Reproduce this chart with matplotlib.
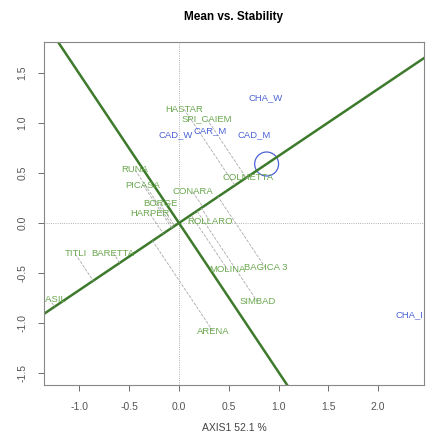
import numpy as np
import matplotlib
import matplotlib.pyplot as plt

matplotlib.use("Agg")
plt.rcParams["font.family"] = ["Liberation Sans", "DejaVu Sans"]
plt.rcParams["axes.unicode_minus"] = False

# ------------------------------------------------------------
# Data (AXIS1 / AXIS2 scores)
# ------------------------------------------------------------
gen_names = ["HASTAR", "SPI_CAIEM", "RUNA", "PICASA", "CONARA", "BORGE",
             "HARPER", "ROLLARO", "COLMETTA", "TITLI", "BARETTA", "MOLINA",
             "BAGICA 3", "SIMBAD", "ARENA", "BRASIL"]
gen_x = [0.05, 0.28, -0.44, -0.36, 0.14, -0.19, -0.29, 0.31, 0.69,
         -1.04, -0.66, 0.49, 0.87, 0.79, 0.34, -1.30]
gen_y = [1.14, 1.04, 0.53, 0.38, 0.31, 0.19, 0.09, 0.02, 0.45,
         -0.31, -0.30, -0.47, -0.45, -0.79, -1.08, -0.76]

env_names = ["CHA_W", "CAD_W", "CAR_M", "CAD_M", "CHA_I"]
env_x = [0.87, -0.03, 0.31, 0.75, 2.31]
env_y = [1.25, 0.88, 0.92, 0.88, -0.92]

# average environment coordinate (circle)
mean_env = (0.88, 0.59)

GREEN_LINE = "#3d7a2c"
GREEN_TXT = "#6aa84f"
BLUE_TXT = "#4b63d6"
GREY = "#555555"

# ------------------------------------------------------------
# Figure
# ------------------------------------------------------------
fig = plt.figure(figsize=(4.33, 4.37), dpi=100)
ax = fig.add_axes([44 / 433, 52 / 437, 380 / 433, 343 / 437])
ax.set_xlim(-1.355, 2.46)
ax.set_ylim(-1.62, 1.81)

# reference axes
ax.axhline(0, color="#999999", linestyle=":", linewidth=0.6)
ax.axvline(0, color="#999999", linestyle=":", linewidth=0.6)

# average-environment axis (ATC abscissa) and its perpendicular
slope = mean_env[1] / mean_env[0]
ax.axline((0, 0), slope=slope, color=GREEN_LINE, linewidth=1.8)
ax.axline((0, 0), slope=-1 / slope, color=GREEN_LINE, linewidth=1.8)

# projection of genotypes onto the ATC abscissa
u = np.array([1.0, slope]) / np.hypot(1.0, slope)
for gx, gy in zip(gen_x, gen_y):
    d = gx * u[0] + gy * u[1]
    ax.plot([gx, d * u[0]], [gy, d * u[1]], color="#aaaaaa",
            linestyle="--", linewidth=0.6)

# circle marking the average environment
circ = plt.Circle(mean_env, 0.12, fill=False, color=BLUE_TXT, linewidth=0.9)
ax.add_patch(circ)

# labels
for name, x, y in zip(gen_names, gen_x, gen_y):
    ax.text(x, y, name, color=GREEN_TXT, fontsize=6.8,
            ha="center", va="center", clip_on=True)
for name, x, y in zip(env_names, env_x, env_y):
    ax.text(x, y, name, color=BLUE_TXT, fontsize=6.8,
            ha="center", va="center", clip_on=True)

# axes style (R-like)
xt = [-1.0, -0.5, 0.0, 0.5, 1.0, 1.5, 2.0]
yt = [-1.5, -1.0, -0.5, 0.0, 0.5, 1.0, 1.5]
ax.set_xticks(xt)
ax.set_yticks(yt)
ax.set_xticklabels([f"{t:.1f}" for t in xt])
ax.set_yticklabels([f"{t:.1f}" for t in yt], rotation=90, va="center")
ax.tick_params(colors=GREY, labelsize=7.5, length=4, width=0.6, pad=8)
for s in ax.spines.values():
    s.set_color("#888888")
    s.set_linewidth(0.8)

ax.set_xlabel("AXIS1 52.1 %", fontsize=7.5, color="#444444", labelpad=8)
ax.set_title("Mean vs. Stability", fontsize=8.5, fontweight="bold", pad=16)

plt.savefig("out.png", dpi=100)
print("Generated out.png")
